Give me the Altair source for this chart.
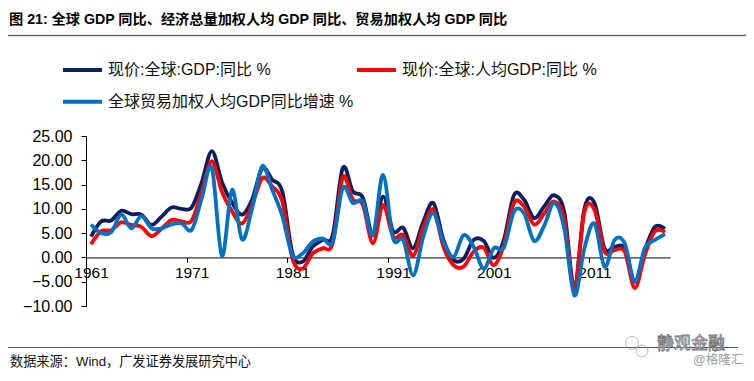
import altair as alt
import pandas as pd

# ---------------- data ----------------
years = list(range(1961, 2019))
series_names = ["现价:全球:GDP:同比 %", "现价:全球:人均GDP:同比 %", "全球贸易加权人均GDP同比增速 %"]
series_colors = ["#0B1F5F", "#FF0000", "#0070C0"]

gdp_yoy = [4.3, 7.4, 7.6, 9.6, 8.9, 8.8, 6.7, 8.4, 10.3, 10.0,
           10.3, 15.5, 21.9, 15.5, 11.3, 8.8, 11.9, 18.3, 16.0, 13.5,
           0.9, -0.9, 2.2, 3.6, 4.6, 18.4, 13.6, 12.3, 4.7, 12.5,
           5.4, 6.1, 1.9, 7.4, 11.2, 3.6, -0.5, -0.3, 3.6, 3.4,
           -0.1, 3.6, 12.8, 11.9, 8.1, 10.5, 12.8, 9.3, -6.1, 10.1,
           11.2, 1.9, 2.2, 1.9, -5.0, 1.5, 6.3, 5.9]
gdp_pc_yoy = [2.7, 5.4, 5.6, 7.2, 6.7, 6.3, 4.4, 5.9, 7.7, 7.4,
              7.6, 13.6, 19.8, 13.5, 9.5, 7.0, 10.8, 16.3, 14.6, 11.5,
              -0.2, -2.3, 0.8, 1.9, 2.9, 16.5, 11.9, 10.8, 2.9, 10.8,
              4.3, 4.6, 0.3, 6.3, 9.8, 2.2, -1.6, -1.9, 1.2, 2.0,
              -1.6, 2.6, 11.2, 10.5, 6.8, 9.0, 11.5, 7.9, -6.5, 9.4,
              9.8, 1.2, 1.5, 1.2, -6.3, 0.5, 5.4, 5.2]
trade_pc_yoy = [6.8, 5.0, 5.2, 8.8, 6.0, 8.5, 6.0, 6.0, 6.8, 7.0,
                5.7, 12.2, 18.4, 0.3, 13.9, 3.7, 10.1, 18.8, 13.9, 8.5,
                0.5, 0.8, 3.2, 3.9, 3.2, 14.3, 11.2, 11.5, 4.6, 17.0,
                3.9, 3.6, -3.7, 4.3, 9.1, 3.2, 0.1, 4.6, 2.2, -2.3,
                1.9, 2.0, 9.4, 9.1, 3.4, 6.5, 11.2, 6.0, -7.8, 1.9,
                7.0, -1.9, 3.6, 2.9, -5.0, 1.9, 3.6, 4.8]

x_label_years = [1961, 1971, 1981, 1991, 2001, 2011]
y_ticks = [-10, -5, 0, 5, 10, 15, 20, 25]

title_text = "图 21:  全球 GDP 同比、经济总量加权人均 GDP 同比、贸易加权人均 GDP 同比"
source_text = "数据来源：Wind，广发证券发展研究中心"
watermark_main = "静观金融"
watermark_sub = "@格隆汇"

# ---------------- layout ----------------
W, H = 584, 170
Y_MIN, Y_MAX = -10, 25
LATIN_CJK = "Liberation Sans, Noto Sans CJK SC"

df = pd.DataFrame(
    [{"year": y, "value": v, "series": name}
     for name, vals in zip(series_names, [gdp_yoy, gdp_pc_yoy, trade_pc_yoy])
     for y, v in zip(years, vals)]
)

x_scale = alt.Scale(domain=[years[0] - 0.5, years[-1] + 0.5], nice=False, zero=False)
y_scale = alt.Scale(domain=[Y_MIN, Y_MAX], nice=False, zero=False)
zero_offset = -H * (0 - Y_MIN) / (Y_MAX - Y_MIN)

x_axis = alt.Axis(values=x_label_years, format="d", title=None, offset=zero_offset,
                  tickOffset=-5, labelOffset=5, tickSize=5, tickColor="black",
                  domainColor="black", domainWidth=1, labelFontSize=15.5,
                  labelFont="Liberation Sans", labelColor="black", labelPadding=3,
                  grid=False, labelFlush=False, labelOverlap=False)
y_axis = alt.Axis(values=y_ticks, format=".2f", title=None, tickSize=5,
                  tickColor="black", domainColor="black", domainWidth=1,
                  labelFontSize=16, labelFont="Liberation Sans", labelColor="black",
                  labelPadding=9, grid=False)

layers = []
for name, color in zip(series_names, series_colors):
    layers.append(
        alt.Chart(df[df["series"] == name]).mark_line(
            interpolate="cardinal", strokeWidth=3.8, color=color
        ).encode(
            x=alt.X("year:Q", scale=x_scale, axis=x_axis),
            y=alt.Y("value:Q", scale=y_scale, axis=y_axis),
        )
    )

def text_layer(txt, x, y, size, color="black", weight="normal", align="left",
               font=LATIN_CJK, **kw):
    return alt.Chart(pd.DataFrame({"t": [txt]})).mark_text(
        align=align, baseline="middle", fontSize=size, font=font,
        fontWeight=weight, color=color, **kw
    ).encode(x=alt.value(x), y=alt.value(y), text="t:N")

def hline(x0, x1, y, color, width):
    return alt.Chart(pd.DataFrame({"k": [0]})).mark_rule(
        color=color, strokeWidth=width
    ).encode(x=alt.value(x0), x2=alt.value(x1), y=alt.value(y))

# title and separators
layers.append(text_layer(title_text, -77, -116.5, 14.2, weight="bold"))
layers.append(hline(-78, 660, -100.5, "#666666", 1.5))
layers.append(hline(-78, 652, 211.5, "#555555", 1.2))

# legend
legend_pos = [(-23, -66), (271, -66), (-23, -34.3)]
for name, color, (lx, ly) in zip(series_names, series_colors, legend_pos):
    layers.append(hline(lx, lx + 39, ly, color, 4))
    layers.append(text_layer(name, lx + 45, ly, 16, color="#111111"))

# source
layers.append(text_layer(source_text, -76, 226, 13.2, color="#111111"))

# watermark
icon = alt.Chart(pd.DataFrame({"k": [0]})).mark_point(
    shape="circle", filled=False, color="#9a9a9a", strokeWidth=1
).encode(x=alt.value(546), y=alt.value(207), size=alt.value(170))
icon2 = alt.Chart(pd.DataFrame({"k": [0]})).mark_point(
    shape="circle", filled=False, color="#9a9a9a", strokeWidth=1
).encode(x=alt.value(556), y=alt.value(215), size=alt.value(140))
layers.append(icon)
layers.append(icon2)
layers.append(text_layer(watermark_main, 571, 208, 17, color="#ffffff",
                         stroke="#777777", strokeWidth=0.8))
layers.append(text_layer(watermark_sub, 607, 224, 12.5, color="#9a9a9a"))

chart = alt.layer(*layers).properties(
    width=W, height=H,
    padding={"left": 78, "top": 128, "right": 76, "bottom": 62},
    autosize=alt.AutoSizeParams(type="none"),
).configure_view(stroke=None)

chart.save("out.html", embed_options={"renderer": "svg", "actions": False})
